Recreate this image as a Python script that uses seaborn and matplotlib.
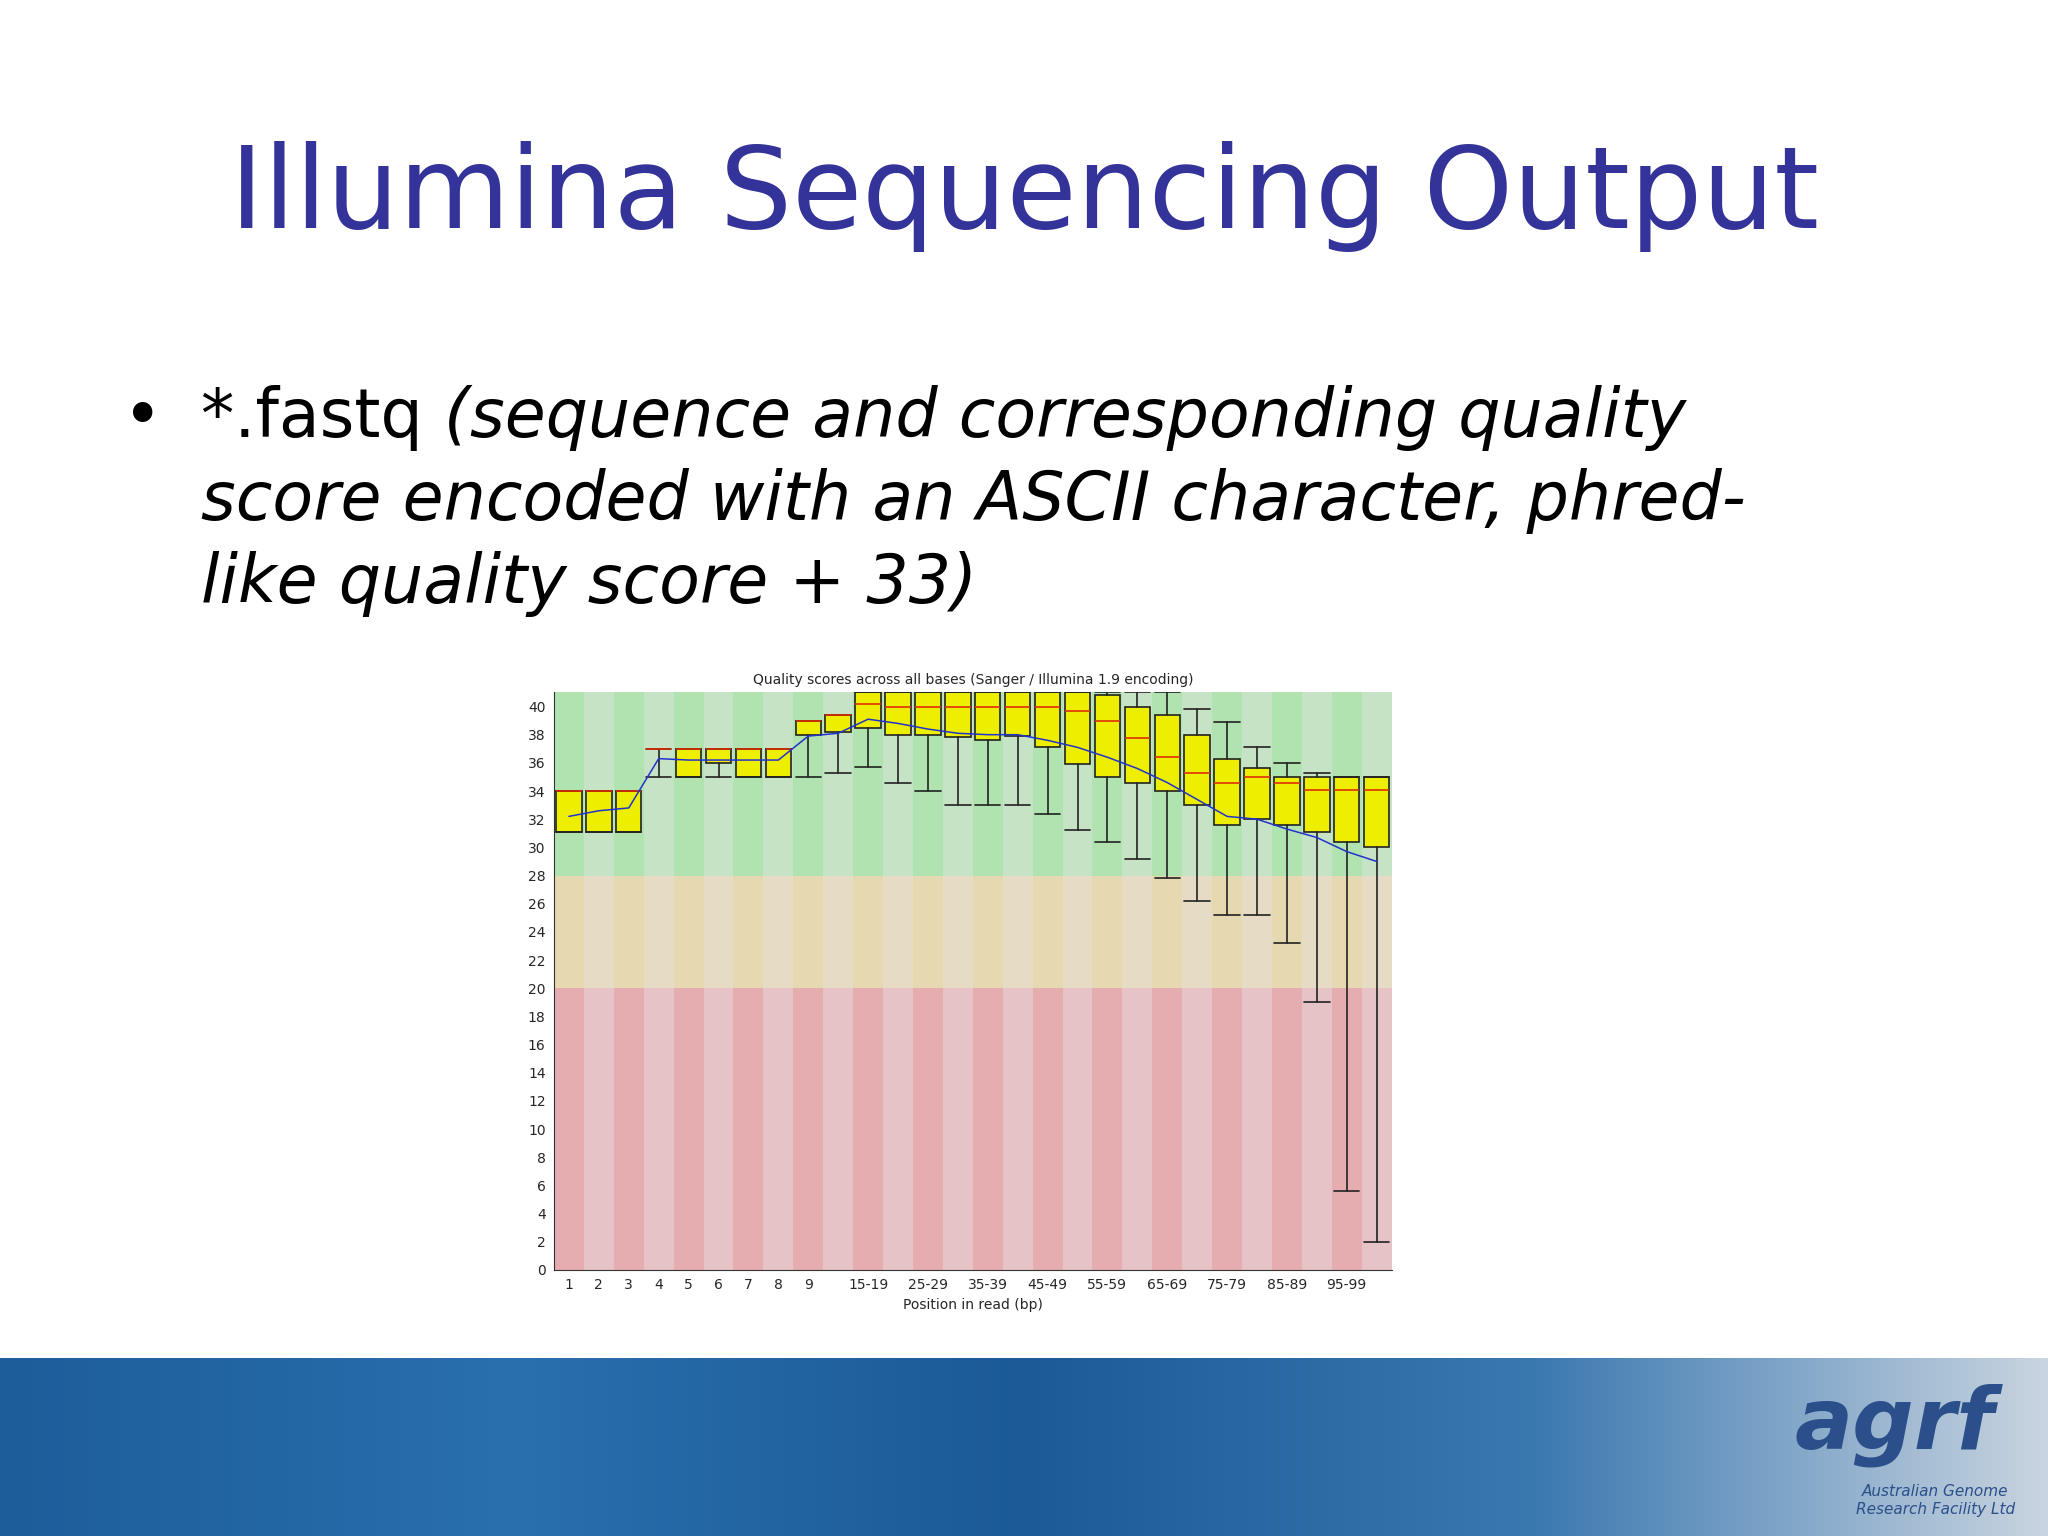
import numpy as np
import matplotlib
matplotlib.use("Agg")
import matplotlib.pyplot as plt
import seaborn as sns
import pandas as pd
from matplotlib.patches import Rectangle

sns.set_style("white")
plt.rcParams['font.family'] = ['DejaVu Sans']

positions = ["1","2","3","4","5","6","7","8","9","10-14","15-19","20-24","25-29","30-34",
             "35-39","40-44","45-49","50-54","55-59","60-64","65-69","70-74","75-79",
             "80-84","85-89","90-94","95-99","100-101"]
q1 = [31.1,31.1,31.1,37.0,35.0,36.0,35.0,35.0,38.0,38.2,38.5,38.0,38.0,37.85,
      37.6,37.9,37.1,35.9,35.0,34.6,34.0,33.0,31.6,32.0,31.6,31.1,30.4,30.0]
q3 = [34.0,34.0,34.0,37.0,37.0,37.0,37.0,37.0,39.0,39.4,41.0,41.0,41.0,41.0,
      41.0,41.0,41.0,41.0,40.8,40.0,39.4,38.0,36.3,35.6,35.0,35.0,35.0,35.0]
medians = [34.0,34.0,34.0,37.0,37.0,37.0,37.0,37.0,39.0,39.4,40.2,40.0,40.0,40.0,
           40.0,40.0,40.0,39.7,39.0,37.8,36.4,35.3,34.6,35.0,34.6,34.1,34.1,34.1]
whislo = [31.1,31.1,31.1,35.0,35.0,35.0,35.0,35.0,35.0,35.3,35.7,34.6,34.0,33.0,
          33.0,33.0,32.4,31.2,30.4,29.2,27.8,26.2,25.2,25.2,23.2,19.0,5.6,2.0]
whishi = [34.0,34.0,34.0,37.0,37.0,37.0,37.0,37.0,39.0,39.4,41.0,41.0,41.0,41.0,
          41.0,41.0,41.0,41.0,41.0,41.0,41.0,39.8,38.9,37.1,36.0,35.3,35.0,35.0]
means = [32.2,32.6,32.8,36.3,36.2,36.2,36.2,36.2,37.9,38.1,39.1,38.8,38.4,38.1,
         38.0,38.0,37.6,37.1,36.4,35.6,34.6,33.4,32.2,32.0,31.3,30.7,29.7,29.0]
shown_labels = ["1","2","3","4","5","6","7","8","9","","15-19","","25-29","","35-39","",
                "45-49","","55-59","","65-69","","75-79","","85-89","","95-99",""]
title = "Quality scores across all bases (Sanger / Illumina 1.9 encoding)"

fig = plt.figure(figsize=(20.48, 15.36), dpi=100)
fig.patch.set_facecolor("white")

# slide title and bullet
fig.text(0.5, 0.872, "Illumina Sequencing Output", ha="center", va="center",
         fontsize=82, color="#333399")
fs = 48
fig.text(0.06, 0.728, "•", fontsize=fs, va="center", color="black")
t0 = fig.text(0.098, 0.728, "*.fastq ", fontsize=fs, va="center", color="black")
fig.canvas.draw()
ext = t0.get_window_extent(renderer=fig.canvas.get_renderer())
x1 = ext.x1 / fig.bbox.width
fig.text(x1, 0.728, "(sequence and corresponding quality", fontsize=fs,
         va="center", style="italic", color="black")
fig.text(0.098, 0.674, "score encoded with an ASCII character, phred-", fontsize=fs,
         va="center", style="italic", color="black")
fig.text(0.098, 0.620, "like quality score + 33)", fontsize=fs,
         va="center", style="italic", color="black")

# bottom banner
bax = fig.add_axes([0, 0, 1, 0.116])
grad = np.linspace(0, 1, 256).reshape(1, -1)
bax.imshow(np.vstack([grad, grad]), aspect="auto", cmap=matplotlib.colors.LinearSegmentedColormap.from_list(
    "b", ["#1d5d9a", "#2a6fae", "#1b5a96", "#3a78b0", "#c9d4e0"]), extent=[0, 1, 0, 1])
bax.set_xlim(0, 1); bax.set_ylim(0, 1); bax.axis("off")
bax.text(0.925, 0.62, "agrf", fontsize=62, style="italic", fontweight="bold",
         color="#2a4f8a", ha="center", va="center")
bax.text(0.945, 0.2, "Australian Genome\nResearch Facility Ltd", fontsize=11, style="italic",
         color="#2a4f8a", ha="center", va="center")

# chart
ax = fig.add_axes([0.2705, 0.1732, 0.409, 0.376])
n = len(positions)
xs = np.arange(1, n + 1)
for i, x in enumerate(xs):
    dark = (i % 2 == 0)
    for lo, hi, cd, cl in [(0, 20, "#e6adb0", "#e6c3c6"), (20, 28, "#e6d8b0", "#e6dcc6"),
                           (28, 41, "#b0e3b0", "#c6e3c6")]:
        ax.add_patch(Rectangle((x - 0.5, lo), 1, hi - lo, color=cd if dark else cl, lw=0, zorder=0))

stats = [dict(med=medians[i], q1=q1[i], q3=q3[i], whislo=whislo[i], whishi=whishi[i],
              label=positions[i]) for i in range(n)]
ax.bxp(stats, positions=xs, widths=0.85, patch_artist=True, showfliers=False,
       boxprops=dict(facecolor="#eeee00", edgecolor="#222222", lw=1.2),
       medianprops=dict(color="#e03000", lw=1.2),
       whiskerprops=dict(color="#222222", lw=1.2),
       capprops=dict(color="#222222", lw=1.2), capwidths=0.85)
df = pd.DataFrame({"x": xs, "mean": means})
sns.lineplot(data=df, x="x", y="mean", ax=ax, color="#2233cc", lw=1.1, zorder=5)

ax.set_xlim(0.5, n + 0.5)
ax.set_ylim(0, 41)
ax.set_yticks(range(0, 41, 2))
ax.set_xticks(xs)
ax.set_xticklabels(shown_labels)
ax.tick_params(axis="both", labelsize=10, length=0, pad=6)
for s in ["top", "right"]:
    ax.spines[s].set_visible(False)
for s in ["left", "bottom"]:
    ax.spines[s].set_color("#333333")
ax.set_xlabel("Position in read (bp)", fontsize=10, labelpad=4)
ax.set_ylabel("")
ax.set_title(title, fontsize=10, pad=6)

fig.savefig("out.png", dpi=100)
